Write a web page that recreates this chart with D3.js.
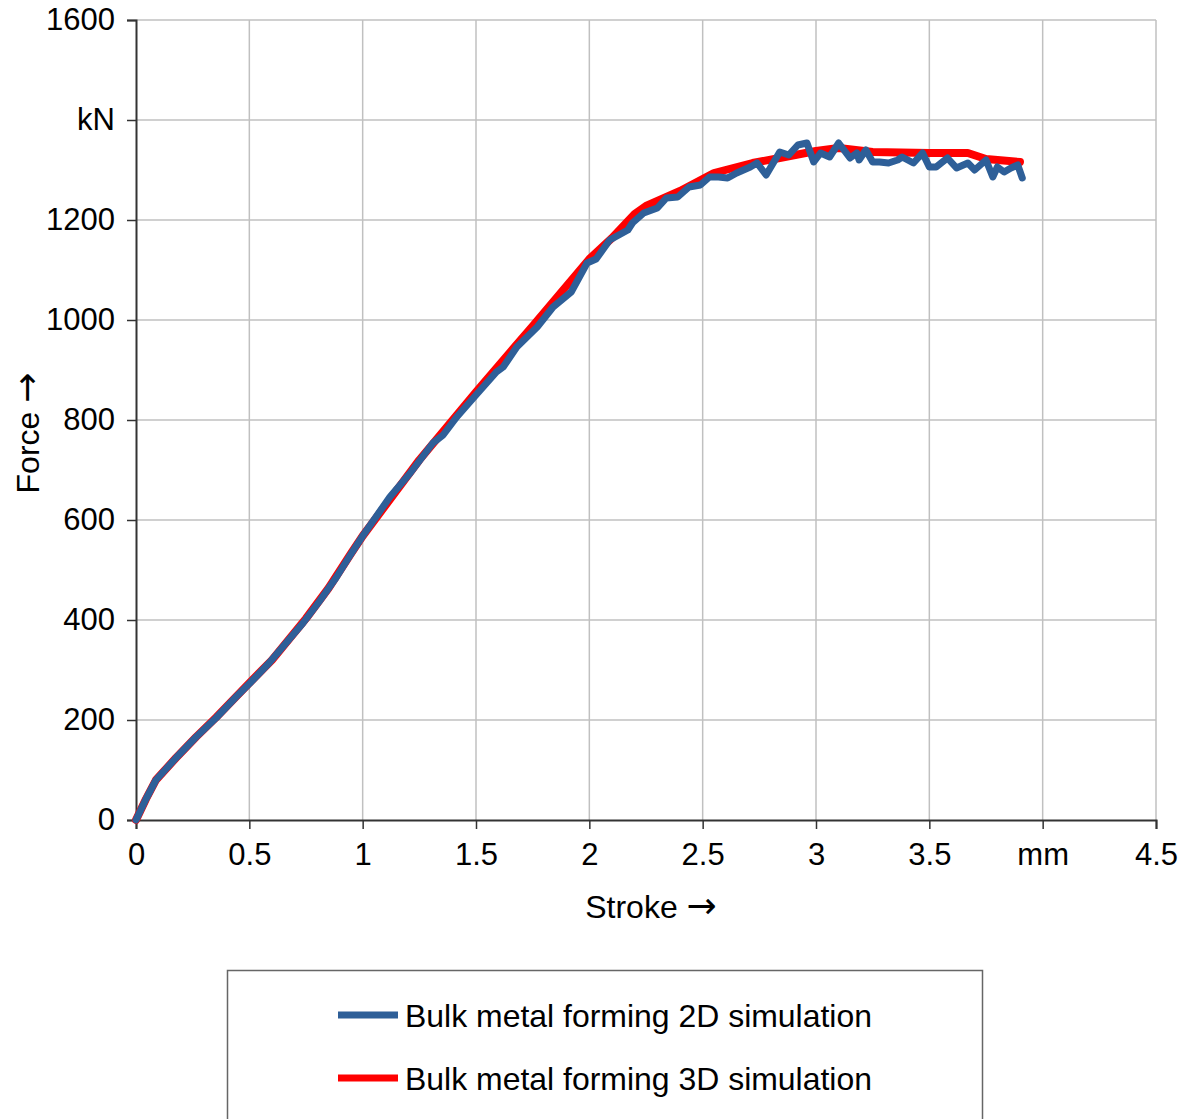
<!DOCTYPE html>
<html>
<head>
<meta charset="utf-8">
<script src="https://cdn.jsdelivr.net/npm/d3@7"></script>
<style>
  html, body { margin: 0; padding: 0; background: #fff; }
  svg text { font-family: "Liberation Sans", Arial, sans-serif; fill: #000; }
</style>
</head>
<body>
<svg id="chart" width="1189" height="1119"></svg>
<script>
// ---- data ----
const xTicks = [0, 0.5, 1, 1.5, 2, 2.5, 3, 3.5, 4, 4.5];
const xTickLabels = ["0", "0.5", "1", "1.5", "2", "2.5", "3", "3.5", "mm", "4.5"];
const yTicks = [0, 200, 400, 600, 800, 1000, 1200, 1400, 1600];
const yTickLabels = ["0", "200", "400", "600", "800", "1000", "1200", "kN", "1600"];

const stroke2D = [0, 0.044, 0.088, 0.176, 0.265, 0.353, 0.441, 0.503, 0.587, 0.662, 0.737, 0.807, 0.882, 0.94, 1.0, 1.12, 1.21, 1.31, 1.355, 1.415, 1.5, 1.59, 1.62, 1.68, 1.77, 1.84, 1.92, 1.99, 2.03, 2.09, 2.17, 2.19, 2.24, 2.30, 2.34, 2.39, 2.44, 2.49, 2.53, 2.57, 2.61, 2.65, 2.71, 2.74, 2.78, 2.84, 2.88, 2.92, 2.96, 2.99, 3.02, 3.06, 3.10, 3.15, 3.18, 3.19, 3.22, 3.25, 3.28, 3.32, 3.36, 3.38, 3.43, 3.47, 3.50, 3.53, 3.58, 3.62, 3.67, 3.70, 3.75, 3.78, 3.80, 3.83, 3.86, 3.89, 3.91];
const force2D = [0, 42, 80, 124, 166, 204, 246, 274, 314, 354, 394, 436, 484, 526, 568, 646, 694, 754, 770, 806, 850, 896, 906, 946, 986, 1026, 1056, 1114, 1122, 1160, 1180, 1194, 1214, 1224, 1244, 1246, 1266, 1270, 1286, 1286, 1284, 1294, 1306, 1314, 1290, 1336, 1330, 1350, 1354, 1316, 1334, 1326, 1354, 1324, 1334, 1320, 1340, 1316, 1316, 1314, 1320, 1326, 1314, 1334, 1306, 1306, 1324, 1304, 1314, 1300, 1320, 1286, 1306, 1296, 1304, 1310, 1284];

const stroke3D = [0, 0.044, 0.088, 0.176, 0.265, 0.353, 0.5, 0.6, 0.75, 0.85, 0.95, 1.0, 1.25, 1.5, 1.75, 2.0, 2.1, 2.2, 2.25, 2.4, 2.55, 2.72, 2.84, 3.0, 3.1, 3.25, 3.5, 3.67, 3.75, 3.9];
const force3D = [0, 42, 80, 124, 166, 205, 274, 320, 403, 464, 534, 568, 720, 856, 988, 1122, 1164, 1212, 1228, 1258, 1294, 1314, 1324, 1338, 1344, 1336, 1334, 1334, 1322, 1316];

const seriesNames = ["Bulk metal forming 2D simulation", "Bulk metal forming 3D simulation"];
const seriesColors = ["#2e5f98", "#ff0000"];

// ---- layout ----
const svg = d3.select("#chart");
const x = d3.scaleLinear().domain([0, 4.5]).range([136, 1156]);
const y = d3.scaleLinear().domain([0, 1600]).range([820, 20]);

// grid
const grid = svg.append("g");
grid.selectAll("line.v").data(xTicks.slice(1)).join("line")
  .attr("x1", d => x(d)).attr("x2", d => x(d))
  .attr("y1", y(0)).attr("y2", y(1600))
  .attr("stroke", "#c0c0c0").attr("stroke-width", 1.5);
grid.selectAll("line.h").data(yTicks.slice(1)).join("line")
  .attr("x1", x(0)).attr("x2", x(4.5))
  .attr("y1", d => y(d)).attr("y2", d => y(d))
  .attr("stroke", "#c0c0c0").attr("stroke-width", 1.5);

// axes
const xAxis = d3.axisBottom(x).tickValues(xTicks).tickSize(9).tickPadding(14)
  .tickFormat((d, i) => xTickLabels[i]);
const yAxis = d3.axisLeft(y).tickValues(yTicks).tickSize(9).tickPadding(12)
  .tickFormat((d, i) => yTickLabels[i]);

const gx = svg.append("g").attr("transform", `translate(0,${y(0)})`).call(xAxis);
const gy = svg.append("g").attr("transform", `translate(${x(0)},0)`).call(yAxis);
[gx, gy].forEach(g => {
  g.select(".domain").attr("stroke", "#333").attr("stroke-width", 2);
  g.selectAll(".tick line").attr("stroke", "#333").attr("stroke-width", 1.5);
  g.selectAll(".tick text").attr("font-size", 31).attr("fill", "#000")
    .attr("font-family", "'Liberation Sans', Arial, sans-serif");
});
gx.selectAll(".tick text").attr("dy", "0.71em");

// axis titles
const xt = svg.append("text").attr("x", 651).attr("y", 918).attr("text-anchor", "middle")
  .attr("font-size", 32);
xt.append("tspan").text("Stroke ");
xt.append("tspan").attr("font-family", "'DejaVu Sans', sans-serif").attr("font-size", 36).text("\u2192");
const yt = svg.append("text").attr("transform", "translate(39,433) rotate(-90)")
  .attr("text-anchor", "middle").attr("font-size", 32);
yt.append("tspan").text("Force ");
yt.append("tspan").attr("font-family", "'DejaVu Sans', sans-serif").attr("font-size", 36).text("\u2192");

// lines
const line = d3.line().x(d => x(d[0])).y(d => y(d[1]));
const data3D = stroke3D.map((s, i) => [s, force3D[i]]);
const data2D = stroke2D.map((s, i) => [s, force2D[i]]);
svg.append("path").datum(data3D).attr("d", line)
  .attr("fill", "none").attr("stroke", seriesColors[1]).attr("stroke-width", 8)
  .attr("stroke-linejoin", "round").attr("stroke-linecap", "round");
svg.append("path").datum(data2D).attr("d", line)
  .attr("fill", "none").attr("stroke", seriesColors[0]).attr("stroke-width", 7)
  .attr("stroke-linejoin", "round").attr("stroke-linecap", "round");

// legend
const lg = svg.append("g");
lg.append("rect").attr("x", 227.5).attr("y", 970.5).attr("width", 755).attr("height", 200)
  .attr("fill", "#fff").attr("stroke", "#666").attr("stroke-width", 1.5);
seriesNames.forEach((name, i) => {
  const cy = 1015 + i * 63;
  lg.append("line").attr("x1", 338).attr("x2", 398).attr("y1", cy).attr("y2", cy)
    .attr("stroke", seriesColors[i]).attr("stroke-width", 7);
  lg.append("text").attr("x", 405).attr("y", cy + 12).attr("font-size", 32)
    .attr("textLength", 467).attr("lengthAdjust", "spacingAndGlyphs").text(name);
});
</script>
</body>
</html>
